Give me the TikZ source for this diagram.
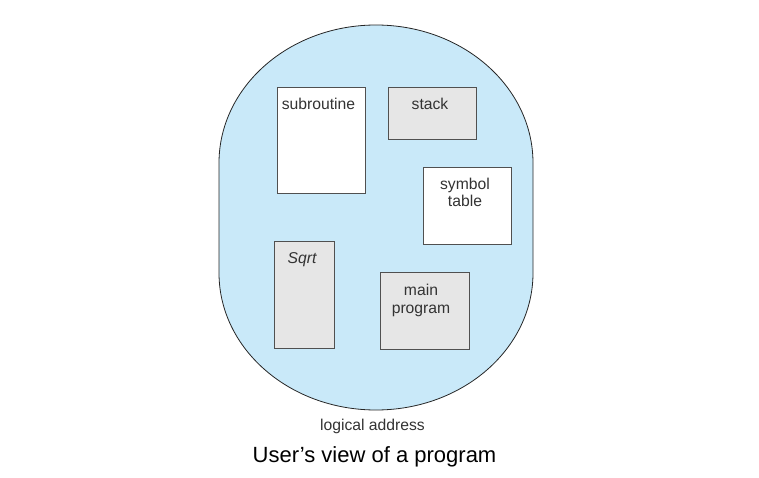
\documentclass[tikz,border=0pt]{standalone}
\usepackage{fontspec}
\setmainfont{Liberation Sans}
\usepackage{tikz}
\usetikzlibrary{positioning}
\definecolor{spaceblue}{HTML}{C9E9F9}
\definecolor{seggray}{HTML}{E6E6E6}
\definecolor{segline}{HTML}{505050}

\begin{document}
\begin{tikzpicture}[x=1pt,y=1pt,
	seg/.style={draw=segline, line width=0.9pt, fill=white},
	seggr/.style={seg, fill=seggray},
	lbl/.style={anchor=base, align=center, font=\fontsize{15.7}{17.5}\selectfont, text=black!80}]
	\useasboundingbox (0,0) rectangle (759,477);
	% address space
	\draw [fill=spaceblue, draw=black!85, line width=0.8pt] (219,204) -- (219,314)
		arc [start angle=180, end angle=0, x radius=157, y radius=138] -- (533,204)
		arc [start angle=0, end angle=-180, x radius=157, y radius=137] -- cycle;
	% segments
	\draw [seg] (277,284) rectangle (365,390);
	\draw [seggr] (388,338) rectangle (476,390);
	\draw [seg] (423,233) rectangle (511,310);
	\draw [seggr] (274,129) rectangle (334,236);
	\draw [seggr] (380,128) rectangle (469,205);
	\node [lbl] (sub) at (318.5,367) {subroutine};
	\node [lbl] (stk) at (430,367) {stack};
	\node [lbl] (sym) at (465,270) {symbol\\table};
	\node [lbl] (sqr) at (302,214) {\itshape Sqrt};
	\node [lbl] (mainp) at (421,164) {main\\program};
	\node [lbl] (la) at (372.5,47) {logical address};
	\node [anchor=base, font=\fontsize{22}{26}\selectfont] (cap) at (374.5,15) {User’s view of a program};
\end{tikzpicture}
\end{document}
